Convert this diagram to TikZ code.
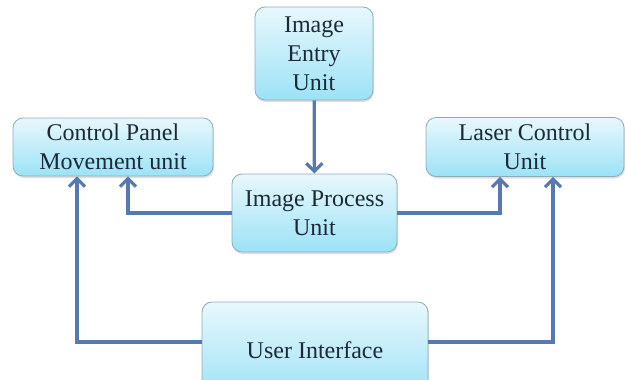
\documentclass[tikz,border=0pt]{standalone}
\usepackage{fontspec}
\setmainfont{Liberation Serif}
\usetikzlibrary{arrows.meta,shadows}
\definecolor{linecol}{RGB}{88,120,176}
\definecolor{boxtop}{RGB}{232,248,253}
\definecolor{boxbot}{RGB}{156,226,246}
\definecolor{boxrim}{RGB}{140,172,188}
\definecolor{inkcol}{RGB}{28,42,56}
\begin{document}
\begin{tikzpicture}[x=1pt,y=-1pt]
\tikzset{unit/.style={draw=boxrim,line width=0.8pt,rounded corners=10pt,
top color=boxtop,bottom color=boxbot,align=center,inner sep=2pt,
text=inkcol,font=\fontsize{24}{29}\selectfont,
drop shadow={opacity=.25,shadow xshift=1pt,shadow yshift=-2pt}},
conn/.style={draw=linecol,line width=3.2pt},
>={Straight Barb[length=8pt,width=16pt]}}
\useasboundingbox (0,0) rectangle (625,380);
% units
\node[unit,minimum width=118pt,minimum height=93pt] at (314,53.5) (IEU) {Image\\Entry\\Unit};
\node[unit,minimum width=200pt,minimum height=58pt] at (113,147) (CPM) {Control Panel\\Movement unit};
\node[unit,minimum width=198pt,minimum height=59pt] at (525,147) (LCU) {Laser Control\\Unit};
\node[unit,minimum width=165pt,minimum height=78pt] at (314.5,213) (IPU) {Image Process\\Unit};
\node[unit,minimum width=226pt,minimum height=96pt] at (315,350) (UI) {User Interface};
% connections
\path[conn,->] (IEU) -- (IPU);
\path[conn,->] (IPU.west) -| ([xshift=15pt]CPM.south);
\path[conn,->] (IPU.east) -| ([xshift=-25pt]LCU.south);
\path[conn,->] ([yshift=8pt]UI.west) -| ([xshift=-36pt]CPM.south);
\path[conn,->] ([yshift=8pt]UI.east) -| ([xshift=28pt]LCU.south);
\end{tikzpicture}
\end{document}
